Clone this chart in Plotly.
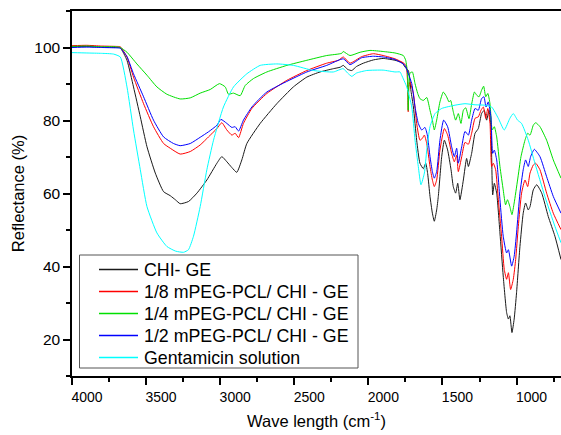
import plotly.graph_objects as go

# ---------------- data ----------------
wn_chi = [4000, 3900, 3800, 3700, 3674, 3629, 3585, 3539, 3494, 3438,
          3382, 3337, 3300, 3270, 3214, 3157, 3090, 3022, 2989, 2955,
          2921, 2888, 2854, 2820, 2730, 2618, 2506, 2415, 2326, 2236,
          2190, 2169, 2140, 2112, 2080, 2034, 1966, 1900, 1820, 1770,
          1753, 1730, 1712, 1696, 1674, 1652, 1629, 1613, 1600, 1584,
          1568, 1555, 1539, 1528, 1505, 1487, 1465, 1442, 1427, 1411,
          1397, 1382, 1359, 1337, 1325, 1303, 1280, 1258, 1236, 1218,
          1202, 1186, 1173, 1161, 1150, 1134, 1112, 1090, 1067, 1055,
          1045, 1031, 1016, 1000, 977, 955, 939, 921, 909, 887,
          864, 830, 786, 741, 700]
r_chi = [100.2, 100.3, 100.1, 100.0, 99.9, 96.5, 89.2, 81.0, 72.8, 65.6,
         60.5, 59.4, 58.2, 57.2, 57.8, 60.1, 63.7, 68.3, 70.1, 68.7,
         67.1, 65.8, 69.2, 73.7, 79.2, 84.6, 89.2, 91.9, 93.3, 94.2,
         94.6, 95.1, 94.0, 93.7, 94.8, 95.7, 96.6, 97.0, 96.5, 95.8,
         94.6, 93.7, 88.0, 83.7, 74.6, 68.3, 66.8, 68.3, 65.5, 59.2,
         54.6, 52.4, 55.5, 59.2, 70.1, 74.6, 71.9, 66.5, 61.9, 60.1,
         62.8, 58.3, 63.7, 69.6, 67.4, 71.0, 76.5, 77.8, 81.9, 82.8,
         80.1, 82.8, 78.3, 59.6, 62.8, 60.1, 49.2, 37.4, 27.4, 25.6,
         26.5, 21.9, 25.6, 32.8, 45.5, 54.6, 57.4, 55.5, 56.4, 61.0,
         62.4, 60.1, 53.7, 48.3, 41.9]

wn_18 = [4000, 3900, 3800, 3700, 3674, 3629, 3585, 3517, 3450, 3382,
         3337, 3270, 3202, 3135, 3079, 3022, 2989, 2955, 2921, 2899,
         2876, 2843, 2786, 2685, 2550, 2415, 2281, 2202, 2169, 2124,
         2045, 1966, 1900, 1820, 1764, 1745, 1736, 1731, 1727, 1719,
         1696, 1674, 1652, 1636, 1622, 1606, 1584, 1568, 1555, 1539,
         1517, 1487, 1465, 1438, 1420, 1404, 1393, 1370, 1348, 1325,
         1303, 1280, 1258, 1240, 1224, 1208, 1194, 1179, 1168, 1157,
         1141, 1123, 1101, 1083, 1067, 1055, 1040, 1022, 1006, 988,
         966, 943, 925, 909, 887, 871, 842, 797, 752, 700]
r_18 = [100.5, 100.6, 100.4, 100.3, 100.2, 97.4, 91.9, 84.6, 78.3, 73.7,
        72.4, 70.8, 71.5, 73.3, 75.5, 77.8, 79.4, 77.4, 76.0, 76.5,
        75.3, 79.2, 83.3, 87.4, 91.0, 93.7, 95.7, 96.5, 97.4, 95.7,
        97.5, 98.3, 97.8, 96.9, 95.8, 95.0, 91.0, 82.4, 89.0, 90.5,
        87.4, 79.2, 74.6, 75.1, 76.0, 73.7, 67.4, 63.7, 61.9, 63.7,
        71.9, 77.8, 76.0, 71.0, 68.7, 70.5, 66.0, 70.1, 74.0, 73.5,
        76.5, 80.6, 81.0, 82.8, 83.7, 80.6, 83.3, 79.2, 67.4, 68.3,
        66.5, 58.3, 48.3, 39.2, 36.5, 38.3, 33.7, 36.5, 41.9, 51.0,
        60.1, 63.7, 61.9, 65.6, 67.8, 68.3, 66.5, 60.1, 54.6, 50.1]

wn_14 = [4000, 3900, 3800, 3700, 3674, 3629, 3562, 3494, 3427, 3360,
         3270, 3202, 3135, 3067, 3005, 2966, 2944, 2910, 2865, 2831,
         2775, 2685, 2550, 2415, 2281, 2180, 2170, 2124, 2056, 1989,
         1900, 1820, 1764, 1748, 1736, 1731, 1727, 1719, 1703, 1685,
         1667, 1652, 1629, 1606, 1584, 1568, 1555, 1539, 1517, 1494,
         1472, 1456, 1445, 1427, 1411, 1393, 1375, 1359, 1343, 1321,
         1303, 1284, 1268, 1253, 1236, 1222, 1208, 1194, 1179, 1164,
         1150, 1134, 1112, 1090, 1074, 1061, 1045, 1031, 1016, 993,
         970, 943, 925, 909, 887, 871, 842, 797, 752, 700]
r_14 = [100.3, 100.4, 100.2, 100.2, 100.0, 98.7, 95.5, 92.4, 89.2, 87.2,
        85.9, 86.2, 87.5, 88.5, 90.1, 89.2, 87.2, 87.5, 86.8, 89.6,
        91.5, 93.3, 95.1, 96.5, 97.8, 98.4, 98.9, 97.8, 98.7, 99.2,
        98.9, 98.5, 97.8, 96.5, 93.0, 82.8, 90.0, 93.0, 93.3, 90.1,
        87.4, 86.0, 85.5, 86.3, 82.8, 80.1, 77.4, 80.1, 85.1, 87.8,
        86.5, 85.1, 85.5, 82.4, 80.1, 81.9, 79.2, 82.8, 83.5, 80.5,
        84.5, 87.8, 86.9, 86.5, 88.3, 89.4, 86.5, 87.4, 84.6, 77.4,
        78.3, 75.5, 67.4, 61.0, 56.9, 58.3, 56.4, 54.2, 57.4, 63.7,
        70.1, 74.6, 76.5, 76.0, 78.7, 79.4, 78.3, 74.6, 69.2, 64.2]

wn_12 = [4000, 3900, 3800, 3700, 3674, 3629, 3585, 3517, 3450, 3382,
         3315, 3270, 3202, 3135, 3079, 3022, 2995, 2955, 2921, 2899,
         2876, 2843, 2786, 2685, 2415, 2281, 2169, 2124, 2045, 1966,
         1900, 1820, 1753, 1730, 1707, 1685, 1663, 1640, 1618, 1602,
         1584, 1568, 1555, 1539, 1517, 1492, 1465, 1438, 1420, 1404,
         1393, 1370, 1348, 1325, 1303, 1280, 1258, 1236, 1220, 1206,
         1191, 1173, 1161, 1150, 1134, 1112, 1090, 1067, 1055, 1033,
         1016, 1000, 977, 955, 939, 921, 905, 880, 842, 797,
         752, 700]
r_12 = [100.0, 100.1, 100.0, 99.9, 99.8, 97.5, 92.8, 86.5, 80.1, 75.5,
        73.7, 73.1, 73.7, 75.4, 76.9, 78.7, 80.3, 79.2, 78.1, 78.3,
        77.1, 80.1, 83.7, 87.8, 93.3, 95.1, 96.9, 95.3, 97.2, 97.6,
        97.4, 96.7, 95.1, 92.8, 90.1, 83.7, 79.2, 77.4, 78.1, 76.0,
        70.1, 66.0, 64.2, 66.0, 74.6, 80.1, 78.3, 72.8, 70.1, 72.4,
        68.3, 72.8, 77.0, 76.0, 80.1, 83.3, 82.8, 86.0, 86.5, 83.7,
        85.1, 81.0, 71.0, 71.9, 69.2, 58.3, 48.3, 43.7, 44.6, 40.1,
        42.8, 49.2, 60.1, 66.5, 69.2, 67.4, 70.1, 72.1, 70.1, 64.6,
        59.2, 54.6]

wn_ge = [4000, 3900, 3800, 3720, 3674, 3629, 3585, 3539, 3494, 3427,
         3360, 3300, 3247, 3214, 3180, 3135, 3090, 3045, 2978, 2910,
         2820, 2730, 2618, 2506, 2371, 2236, 2170, 2140, 2112, 2080,
         2011, 1900, 1820, 1786, 1775, 1741, 1707, 1685, 1663, 1645,
         1622, 1606, 1584, 1550, 1505, 1415, 1348, 1280, 1213, 1168,
         1123, 1083, 1045, 1022, 993, 966, 921, 876, 809, 741,
         700]
r_ge = [98.6, 98.5, 98.4, 98.2, 97.4, 89.2, 77.4, 66.5, 56.4, 49.2,
        45.5, 44.2, 43.9, 44.6, 48.3, 56.4, 66.5, 74.6, 83.7, 89.2,
        92.8, 95.1, 95.5, 95.1, 93.7, 93.3, 94.2, 93.0, 92.1, 93.0,
        93.7, 93.8, 93.3, 93.3, 92.4, 89.2, 83.7, 74.6, 67.4, 62.4,
        65.6, 71.9, 78.3, 81.9, 83.3, 84.2, 84.6, 84.3, 84.2, 83.7,
        80.6, 77.4, 80.6, 81.9, 80.1, 79.2, 74.6, 68.3, 59.2, 51.0,
        46.5]

series_names = ["CHI- GE", "1/8 mPEG-PCL/ CHI - GE", "1/4 mPEG-PCL/ CHI - GE",
                "1/2 mPEG-PCL/ CHI - GE", "Gentamicin solution"]
series_x = [wn_chi, wn_18, wn_14, wn_12, wn_ge]
series_y = [r_chi, r_18, r_14, r_12, r_ge]
colors = ["#1a1a1a", "#ff0000", "#00e000", "#0000ff", "#00ffff"]

x_tick_vals = [4000, 3500, 3000, 2500, 2000, 1500, 1000]
y_tick_vals = [20, 40, 60, 80, 100]

# ---------------- layout geometry (pixels) ----------------
W, H = 561, 435
ML, MR, MT, MB = 72, 0, 11, 59
PW, PH = W - ML - MR, H - MT - MB


def px2x(px):
    return (px - ML) / PW


def py2y(py):
    return (H - MB - py) / PH


font_family = "Arial, Liberation Sans, sans-serif"

fig = go.Figure()
for name, xs, ys, c in zip(series_names, series_x, series_y, colors):
    fig.add_trace(go.Scatter(x=xs, y=ys, mode="lines", name=name, showlegend=False,
                             line=dict(color=c, width=1, shape="spline", smoothing=0.5)))

# ---- legend box (drawn like the Origin legend) ----
shapes = [dict(type="rect", xref="paper", yref="paper",
               x0=px2x(79.5), x1=px2x(358), y0=py2y(368), y1=py2y(255),
               line=dict(color="#555555", width=1), fillcolor="white", layer="above"),
          # top frame line extends slightly left of the y axis, as in the original
          dict(type="line", xref="paper", yref="paper",
               x0=px2x(67), x1=px2x(72), y0=1, y1=1,
               line=dict(color="black", width=1.5), layer="above")]
annotations = []
leg_y = [269.5, 291.5, 313.5, 335.5, 357.5]
for i in range(len(series_names)):
    ly = leg_y[i]
    shapes.append(dict(type="line", xref="paper", yref="paper",
                       x0=px2x(99), x1=px2x(138), y0=py2y(ly), y1=py2y(ly),
                       line=dict(color=colors[i], width=1.5), opacity=1, layer="above"))
    annotations.append(dict(text=series_names[i], xref="paper", yref="paper",
                            x=px2x(142), y=py2y(ly), xanchor="left", yanchor="middle",
                            showarrow=False, font=dict(size=17.8, family=font_family, color="black")))

fig.update_layout(
    width=W, height=H,
    margin=dict(l=ML, r=MR, t=MT, b=MB, autoexpand=False),
    paper_bgcolor="white", plot_bgcolor="white",
    font=dict(family=font_family, color="black"),
    showlegend=False,
    shapes=shapes, annotations=annotations,
)
fig.update_xaxes(
    range=[4000, 700], tickvals=x_tick_vals, ticks="outside", ticklen=7, tickwidth=1.5,
    tickcolor="black", minor=dict(ticks="outside", ticklen=4, dtick=250, tick0=0, tickcolor="black", tickwidth=1.5),
    showline=True, linecolor="black", linewidth=1.5, mirror=True,
    showgrid=False, zeroline=False, automargin=False,
    tickfont=dict(size=14), ticklabelshift=-15,
    title=dict(text="Wave length (cm<sup>-1</sup>)", font=dict(size=16.5), standoff=12),
)
fig.update_yaxes(
    range=[10, 110], tickvals=y_tick_vals, ticks="outside", ticklen=7, tickwidth=1.5,
    tickcolor="black", minor=dict(ticks="outside", ticklen=4, dtick=10, tick0=0, tickcolor="black", tickwidth=1.5),
    showline=True, linecolor="black", linewidth=1.5, mirror=False,
    showgrid=False, zeroline=False, automargin=False,
    tickfont=dict(size=15.5),
    title=dict(text="Reflectance (%)", font=dict(size=16.5), standoff=6),
)

fig.write_html("out.html", config={"displayModeBar": False},
               post_script="document.body.style.margin='0px';")
